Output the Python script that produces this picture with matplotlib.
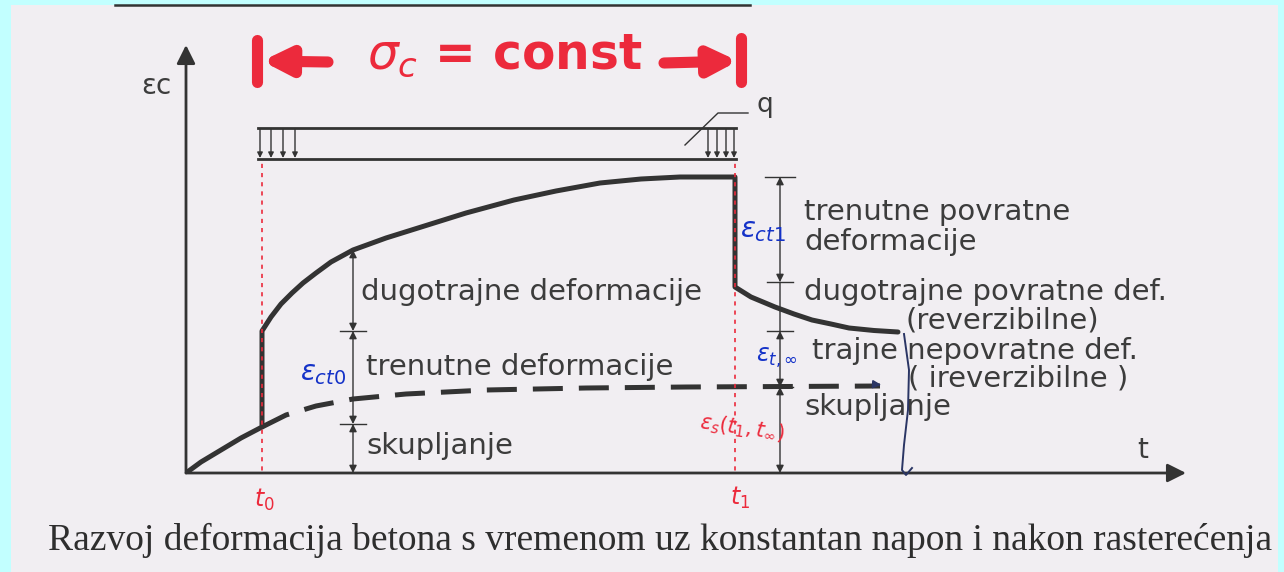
import numpy as np
import matplotlib
matplotlib.use("Agg")
import matplotlib.pyplot as plt
from matplotlib.patches import Rectangle

# time / strain readings (t in arbitrary time units, strain in arbitrary units)
T0 = 7.6
T1 = 54.9

# shrinkage before loading (solid) and after (dashed)
t_shrink_pre = [0.0, 1.5, 3.5, 5.5, 7.6]
eps_shrink_pre = [0.0, 1.1, 2.3, 3.5, 4.6]
t_shrink = [7.6, 10.0, 13.0, 16.7, 22.0, 30.0, 40.0, 50.0, 60.0, 69.4]
eps_shrink = [4.6, 5.8, 6.7, 7.4, 7.9, 8.3, 8.5, 8.6, 8.65, 8.7]

# total strain under constant stress
t_creep = [7.6, 7.6, 8.5, 9.5, 10.6, 11.7, 13.0, 14.5, 16.7, 20.0, 23.2, 28.0,
           32.8, 37.0, 41.4, 45.5, 49.4, 54.9]
eps_creep = [4.6, 14.2, 15.6, 16.9, 18.0, 19.0, 20.0, 21.1, 22.3, 23.5, 24.5,
             26.0, 27.3, 28.2, 29.0, 29.4, 29.6, 29.6]

# recovery after unloading
t_recov = [54.9, 54.9, 56.5, 58.9, 60.8, 62.6, 64.5, 66.3, 68.8, 71.2]
eps_recov = [29.6, 18.6, 17.6, 16.6, 15.9, 15.3, 14.9, 14.5, 14.25, 14.1]

# dimension chains: (t position, levels)
dim_left_t = 16.7
dim_left_levels = [22.3, 14.2, 4.9, 0.0]
dim_right_t = 59.4
dim_right_levels = [29.6, 19.1, 14.2, 8.6, 0.0]

left_labels = ["dugotrajne deformacije", "trenutne deformacije", "skupljanje"]
right_labels = ["trenutne povratne", "deformacije", "dugotrajne povratne def.",
                "(reverzibilne)", "trajne nepovratne def.", "( ireverzibilne )",
                "skupljanje"]
caption = "Razvoj deformacija betona s vremenom uz konstantan napon i nakon rasterećenja"

INK = "#333333"
TXT = "#3c3c3c"
RED = "#ec2a3c"
BLUE = "#1432c8"
PAPER = "#f1eef2"
CYAN = "#c2ffff"

W, H = 1284, 572
fig = plt.figure(figsize=(W / 100, H / 100), dpi=100)
fig.patch.set_facecolor(PAPER)

# background layer in pixel coordinates
bg = fig.add_axes([0, 0, 1, 1])
bg.set_xlim(0, W)
bg.set_ylim(H, 0)
bg.axis("off")
bg.add_patch(Rectangle((0, 0), W, 5, color=CYAN, lw=0))
bg.add_patch(Rectangle((0, 0), 11, H, color=CYAN, lw=0))
bg.add_patch(Rectangle((W - 6, 0), 6, H, color=CYAN, lw=0))
bg.plot([115, 750], [5, 5], color=INK, lw=1.8)

# chart area: origin at pixel (186, 473), 10 px per unit
ch = fig.add_axes([186 / W, 1 - 473 / H, 1000 / W, 428 / H])
ch.set_xlim(0, 100)
ch.set_ylim(0, 42.8)
ch.axis("off")
ch.patch.set_alpha(0)

# axes with arrow heads
ch.annotate("", xy=(0, 42.8), xytext=(0, 0),
            arrowprops=dict(arrowstyle="-|>", lw=2.0, color=INK, mutation_scale=28,
                            shrinkA=0, shrinkB=0))
ch.annotate("", xy=(100, 0), xytext=(0, 0),
            arrowprops=dict(arrowstyle="-|>", lw=2.0, color=INK, mutation_scale=28,
                            shrinkA=0, shrinkB=0))

# strain curve
ch.plot(t_shrink_pre + t_creep + t_recov, eps_shrink_pre + eps_creep + eps_recov,
        color=INK, lw=3.6, solid_joinstyle="round", solid_capstyle="round")
ch.plot(t_shrink, eps_shrink, color=INK, lw=3.6, dashes=(6, 3.2))

# load bars at t0 and t1
for tx in (T0, T1):
    ch.plot([tx, tx], [-2.5, 31.2], color=RED, lw=1.2, dashes=(2.5, 3))


def dim_chain(t, levels, plain=()):
    for i in range(len(levels) - 1):
        a, b = levels[i], levels[i + 1]
        style = "-" if i in plain else "<|-|>"
        ch.annotate("", xy=(t, b), xytext=(t, a),
                    arrowprops=dict(arrowstyle=style, lw=1.0, color=INK,
                                    mutation_scale=11, shrinkA=0, shrinkB=0))
    for lv in levels[1:-1]:
        ch.plot([t - 1.3, t + 1.3], [lv, lv], color=INK, lw=1.0)


dim_chain(dim_left_t, dim_left_levels)
dim_chain(dim_right_t, dim_right_levels, plain=(1,))
ch.plot([dim_right_t - 1.5, dim_right_t + 1.5], [dim_right_levels[0]] * 2,
        color=INK, lw=1.0)

# overlay for labels in pixel coordinates
ov = fig.add_axes([0, 0, 1, 1])
ov.set_xlim(0, W)
ov.set_ylim(H, 0)
ov.axis("off")
ov.patch.set_alpha(0)

# distributed load q
ov.plot([258, 736], [128, 128], color=INK, lw=2.0)
ov.plot([258, 736], [159, 159], color=INK, lw=2.0)
for x in [260, 271, 283, 295, 708, 717, 726, 734]:
    ov.annotate("", xy=(x, 158), xytext=(x, 129),
                arrowprops=dict(arrowstyle="-|>", lw=1.0, color=INK,
                                mutation_scale=8, shrinkA=0, shrinkB=0))
ov.plot([685, 718, 748], [145, 113, 113], color=INK, lw=1.0)
ov.text(756, 105, "q", fontsize=19, color=TXT, ha="left", va="center")

ov.text(156, 86, "εc", fontsize=20, color=TXT, ha="center", va="center")
ov.text(1143, 450, "t", fontsize=20, color=TXT, ha="center", va="center")

fs = 21
ov.text(361, 292, left_labels[0], fontsize=fs, color=TXT, va="center")
ov.text(366, 367, left_labels[1], fontsize=fs, color=TXT, va="center")
ov.text(366, 446, left_labels[2], fontsize=fs, color=TXT, va="center")

right_pos = [(804, 212), (804, 242), (804, 292), (905, 320), (812, 351),
             (908, 378), (804, 407)]
for (x, y), s in zip(right_pos, right_labels):
    ov.text(x, y, s, fontsize=fs, color=TXT, va="center")

ov.text(660, 540, caption, fontsize=27, family="Liberation Serif", color="#2e2e2e",
        ha="center", va="center")

# handwritten notes
ov.text(505, 55, r"$\sigma_c$ = const", fontsize=35, fontweight="bold", color=RED,
        ha="center", va="center")
ov.plot([257, 257], [40, 82], color=RED, lw=8, solid_capstyle="round")
ov.annotate("", xy=(262, 61), xytext=(328, 62),
            arrowprops=dict(arrowstyle="-|>", lw=8, color=RED, mutation_scale=40,
                            shrinkA=0, shrinkB=0))
ov.plot([741, 741], [38, 82], color=RED, lw=8, solid_capstyle="round")
ov.annotate("", xy=(738, 61), xytext=(664, 63),
            arrowprops=dict(arrowstyle="-|>", lw=8, color=RED, mutation_scale=40,
                            shrinkA=0, shrinkB=0))

ov.text(264, 500, r"$t_0$", fontsize=17, color=RED, ha="center", va="center")
ov.text(740, 498, r"$t_1$", fontsize=17, color=RED, ha="center", va="center")
ov.text(742, 428, r"$\varepsilon_s(t_1,t_\infty)$", fontsize=15, color=RED,
        ha="center", va="center", rotation=-8)

ov.text(323, 373, r"$\varepsilon_{ct0}$", fontsize=20, color=BLUE, ha="center",
        va="center")
ov.text(763, 230, r"$\varepsilon_{ct1}$", fontsize=20, color=BLUE, ha="center",
        va="center")
ov.text(777, 358, r"$\varepsilon_{t,\infty}$", fontsize=17, color=BLUE, ha="center",
        va="center")

# blue marker from end of recovery down to the time axis
ov.plot([904, 909, 908, 904, 902, 906, 912], [334, 370, 410, 445, 470, 475, 468],
        color="#2a3564", lw=1.4)
ov.annotate("", xy=(884, 385), xytext=(870, 384),
            arrowprops=dict(arrowstyle="-|>", lw=1.2, color="#2a3564",
                            mutation_scale=12))

fig.savefig("out.png", dpi=100, facecolor=fig.get_facecolor())
